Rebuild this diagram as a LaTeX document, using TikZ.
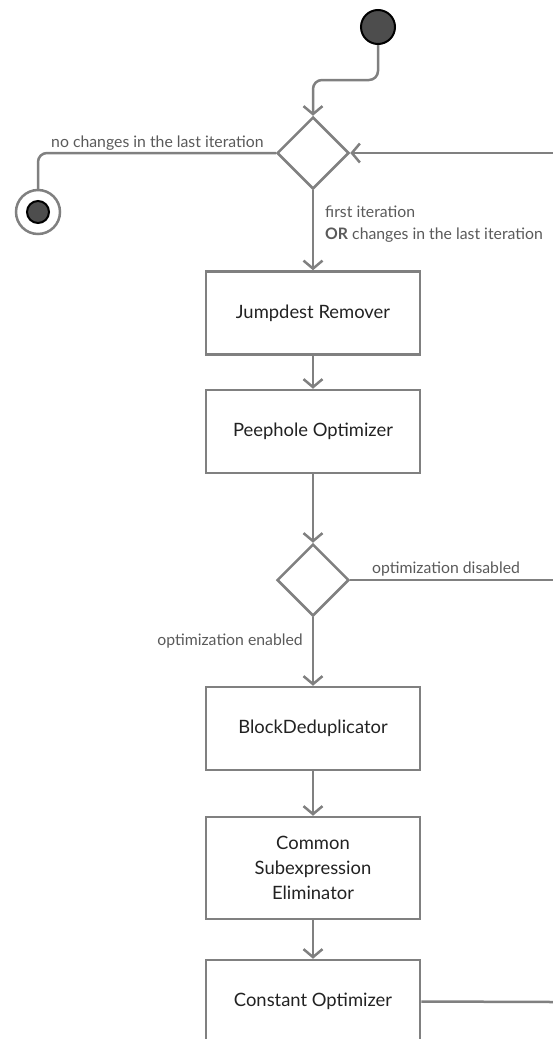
\documentclass[tikz,border=0pt]{standalone}
\usepackage{fontspec}
\setmainfont{Lato}
\usetikzlibrary{shapes.geometric,arrows.meta}
\definecolor{edgegray}{HTML}{808080}
\definecolor{labelgray}{HTML}{5A5A5A}
\definecolor{dotfill}{HTML}{4D4D4D}
\definecolor{boxtext}{HTML}{222222}
\tikzset{
  flow/.style={draw=edgegray, line width=2.5pt},
  arr/.style={flow, -{Straight Barb[length=8pt,width=19pt,line width=2.5pt]}},
  stepbox/.style={draw=edgegray, line width=2.5pt, rectangle, minimum width=214pt,
    minimum height=83pt, inner sep=0pt, align=center, text=boxtext,
    font=\fontsize{18.4}{25}\selectfont},
  decision/.style={draw=edgegray, line width=2.5pt, diamond, minimum width=72pt,
    minimum height=72pt, inner sep=0pt},
  guard/.style={text=labelgray, font=\fontsize{15.8}{22}\selectfont, inner sep=0pt},
}
\begin{document}
\begin{tikzpicture}[x=1pt, y=-1pt]
\useasboundingbox (0,0) rectangle (553,1039);
\clip (0,0) rectangle (553,1039);

% initial and final states
\node[circle, draw=black, line width=2pt, fill=dotfill, minimum size=34pt, inner sep=0pt] (start) at (378,27) {};
\node[circle, draw=edgegray, line width=2.5pt, fill=white, minimum size=44pt, inner sep=0pt] (final) at (38,212) {};
\node[circle, draw=black, line width=2pt, fill=dotfill, minimum size=22pt, inner sep=0pt] (finaldot) at (38,212) {};

% decisions
\node[decision] (d1) at (313,153) {};
\node[decision] (d2) at (313,580) {};

% optimizer steps
\node[stepbox] (jr) at (313,313) {Jumpdest Remover};
\node[stepbox] (po) at (313,431.5) {Peephole Optimizer};
\node[stepbox] (bd) at (313,728.5) {BlockDeduplicator};
\node[stepbox, minimum height=102pt] (cse) at (313,868) {Common\\Subexpression\\Eliminator};
\node[stepbox] (co) at (313,1001.5) {Constant Optimizer};

% free ends at the right border
\coordinate (loopin) at (553,153);
\coordinate (disout) at (553,580);
\coordinate (coout) at (553,1002);

% connectors
\draw[arr, rounded corners=9pt] (start.south) -- (378,80) -- (313,80) -- (d1.north);
\draw[arr] (loopin) -- (d1.east);
\draw[flow, rounded corners=9pt] (d1.west) -| (final.north);
\draw[arr] (d1.south) -- (jr.north);
\draw[arr] (jr.south) -- (po.north);
\draw[arr] (po.south) -- (d2.north);
\draw[flow] (d2.east) -- (disout);
\draw[arr] (d2.south) -- (bd.north);
\draw[arr] (bd.south) -- (cse.north);
\draw[arr] (cse.south) -- (co.north);
\draw[flow] (co.east) -- (coout);

% guards
\node[guard, anchor=base west] (g1) at (51,147) {no changes in the last iteration};
\node[guard, anchor=base west, align=left] (g2) at (325,239) {first iteration\\\textbf{OR} changes in the last iteration};
\node[guard, anchor=base west] (g3) at (372,573) {optimization disabled};
\node[guard, anchor=base east] (g4) at (303,645) {optimization enabled};
\end{tikzpicture}
\end{document}
